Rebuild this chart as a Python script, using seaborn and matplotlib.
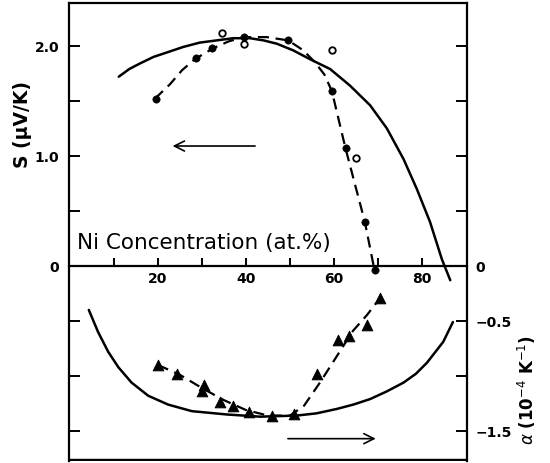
import numpy as np
import pandas as pd
import matplotlib
matplotlib.use("Agg")
import matplotlib.pyplot as plt
import seaborn as sns

# ==========================================
# Data
# ==========================================

# Thermopower S (upper half), filled and open circles
s_conc_filled = [19.5, 28.6, 32.3, 39.5, 49.6, 59.6, 62.7, 67.0, 69.3]
s_filled = [1.52, 1.89, 1.98, 2.08, 2.05, 1.59, 1.07, 0.40, -0.04]

s_conc_open = [34.5, 39.6, 59.6, 64.9]
s_open = [2.12, 2.02, 1.96, 0.98]

# dashed guide through the S data
s_dash_conc = [19.3, 22.7, 25.5, 28.4, 32.6, 36, 39.4, 44.7, 49.6, 53.0, 55.7, 57.8, 59.5, 62.6, 67.0, 69.2]
s_dash = [1.52, 1.65, 1.78, 1.88, 1.98, 2.04, 2.08, 2.08, 2.05, 1.96, 1.85, 1.74, 1.59, 1.07, 0.40, -0.04]

# solid (calculated) S curve
s_calc_conc = [11.1, 13.5, 15.9, 19, 22.0, 25.7, 29.5, 33.3, 37.1, 40.9, 44, 47.0, 50.7,
               54.5, 59.1, 63.6, 68.2, 72.0, 75.8, 78.8, 81.8, 84.5, 86.4]
s_calc = [1.72, 1.79, 1.84, 1.90, 1.94, 1.99, 2.03, 2.05, 2.07, 2.07, 2.05, 2.02, 1.96,
          1.88, 1.79, 1.64, 1.46, 1.25, 0.97, 0.70, 0.40, 0.06, -0.13]

# alpha (lower half), triangles
a_conc = [20.0, 24.4, 29.9, 30.5, 34.1, 37.1, 40.7, 46.0, 50.9, 56.1, 60.8, 63.5, 67.4, 70.5]
a_vals = [-0.90, -0.98, -1.14, -1.08, -1.24, -1.27, -1.33, -1.36, -1.35, -0.98, -0.67, -0.64, -0.54, -0.29]

a_dash_conc = [20, 25, 30, 35, 40, 45, 50, 53.2, 56.8, 60, 64.3, 67.4, 70.5]
a_dash = [-0.90, -0.99, -1.11, -1.22, -1.31, -1.36, -1.36, -1.27, -1.06, -0.86, -0.59, -0.45, -0.29]

a_calc_conc = [4.3, 6.4, 8.7, 11.0, 14.0, 17.8, 22.3, 27.7, 35.6, 43.2, 51.5, 56, 60.6,
               64.4, 68.2, 72.0, 75.8, 78.6, 81.1, 84.8, 87.0]
a_calc = [-0.40, -0.60, -0.78, -0.92, -1.06, -1.18, -1.26, -1.32, -1.35, -1.37, -1.36, -1.34, -1.30,
          -1.26, -1.21, -1.14, -1.06, -0.98, -0.88, -0.69, -0.51]

x_ticks = [10, 20, 30, 40, 50, 60, 70, 80]
x_labels = ["", "20", "", "40", "", "60", "", "80"]
left_ticks = [-1.5, -1.0, -0.5, 0, 0.5, 1.0, 1.5, 2.0]
left_labels = ["", "", "", "0", "", "1.0", "", "2.0"]
right_labels = ["\u22121.5", "", "\u22120.5", "0", "", "", "", ""]

# ==========================================
# Figure
# ==========================================

sns.set_style("white")
plt.rcParams["font.family"] = ["DejaVu Sans"]
plt.rcParams["text.color"] = "black"
plt.rcParams["xtick.color"] = "black"
plt.rcParams["ytick.color"] = "black"

fig = plt.figure(figsize=(5.5, 4.64), dpi=100)
ax = fig.add_axes([69 / 550, 1 - 462 / 464, 398 / 550, 458 / 464])

ymin, ymax = -1.773, 2.39
ax.set_xlim(-0.2, 90.2)
ax.set_ylim(ymin, ymax)

dash = (0, (5, 3))
sns.lineplot(x=s_calc_conc, y=s_calc, ax=ax, color="black", linewidth=1.8, sort=False)
sns.lineplot(x=a_calc_conc, y=a_calc, ax=ax, color="black", linewidth=1.8, sort=False)
sns.lineplot(x=s_dash_conc, y=s_dash, ax=ax, color="black", linewidth=1.6,
             sort=False, linestyle=dash)
sns.lineplot(x=a_dash_conc, y=a_dash, ax=ax, color="black", linewidth=1.6,
             sort=False, linestyle=dash)

sns.scatterplot(x=s_conc_filled, y=s_filled, ax=ax, color="black", s=28,
                edgecolor="black", zorder=5)
sns.scatterplot(x=s_conc_open, y=s_open, ax=ax, facecolor="white", s=22,
                edgecolor="black", linewidth=1.3, zorder=5)
sns.scatterplot(x=a_conc, y=a_vals, ax=ax, color="black", marker="^", s=60,
                edgecolor="black", zorder=5)

# frame: x axis sits on the zero line, extra line for the bottom edge
for side in ["left", "right", "top", "bottom"]:
    ax.spines[side].set_visible(True)
    ax.spines[side].set_color("black")
    ax.spines[side].set_linewidth(1.6)
ax.spines["bottom"].set_position(("data", 0))
ax.axhline(ymin, color="black", linewidth=3.2, clip_on=True)

ax.set_xticks(x_ticks)
ax.set_xticklabels(x_labels, fontsize=10, fontweight="bold")
ax.tick_params(axis="x", direction="in", length=6, width=1.4, pad=4, bottom=True)

ax.set_yticks(left_ticks)
ax.set_yticklabels(left_labels, fontsize=10, fontweight="bold")
ax.tick_params(axis="y", direction="in", length=8, width=1.4, pad=7, left=True)

ax2 = ax.twinx()
ax2.set_ylim(ymin, ymax)
ax2.set_yticks(left_ticks)
ax2.set_yticklabels(right_labels, fontsize=10, fontweight="bold")
ax2.tick_params(axis="y", direction="in", length=8, width=1.4, pad=6, right=True)
for side in ["left", "right", "top", "bottom"]:
    ax2.spines[side].set_visible(False)

ax.set_xlabel("")
ax.set_ylabel("")

ax.text(1.6, 0.22, "Ni Concentration (at.%)", fontsize=15.5, ha="left", va="center",
        color="black")

ax.annotate("", xy=(22.7, 1.09), xytext=(42.7, 1.09),
            arrowprops=dict(arrowstyle="->", color="black", lw=1.2,
                            mutation_scale=18))
ax.annotate("", xy=(70.1, -1.57), xytext=(48.9, -1.57),
            arrowprops=dict(arrowstyle="->", color="black", lw=1.2,
                            mutation_scale=18))

fig.text(23 / 550, 1 - 125 / 464, "S (\u03bcV/K)", rotation=90, fontsize=13.5,
         fontweight="bold", ha="center", va="center", color="black")
fig.text(527 / 550, 1 - 390 / 464, r"$\alpha$ (10$^{-4}$ K$^{-1}$)", rotation=90,
         fontsize=12, fontweight="bold", ha="center", va="center", color="black")

fig.savefig("out.png", dpi=100)
